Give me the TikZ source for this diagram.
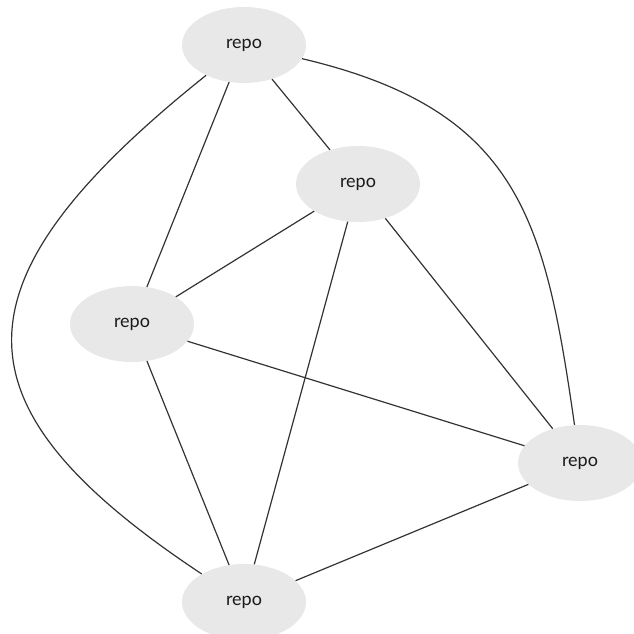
\documentclass[tikz,border=0pt]{standalone}
\usepackage{fontspec}
\setmainfont{Lato}
\usetikzlibrary{shapes.geometric}
\definecolor{nodefill}{HTML}{E8E8E8}
\definecolor{edgecol}{HTML}{333333}
\definecolor{textcol}{HTML}{1A1A1A}
\tikzset{
  repobox/.style={ellipse, fill=nodefill, draw=none, inner sep=0pt,
    minimum width=124pt, minimum height=76pt,
    font=\fontsize{18}{21}\selectfont, text=textcol},
  edge/.style={draw=edgecol, line width=1.2pt}
}
\begin{document}
\begin{tikzpicture}[x=1pt,y=-1pt]
\useasboundingbox (0,0) rectangle (634,634);
\node[repobox] (A) at (244,45) {repo};
\node[repobox] (B) at (358,184) {repo};
\node[repobox] (C) at (132,324) {repo};
\node[repobox] (D) at (580,463) {repo};
\node[repobox] (E) at (244,602) {repo};
\draw[edge] (A) -- (B);
\draw[edge] (A) -- (C);
\draw[edge] (B) -- (C);
\draw[edge] (B) -- (D);
\draw[edge] (B) -- (E);
\draw[edge] (C) -- (D);
\draw[edge] (C) -- (E);
\draw[edge] (D) -- (E);
\draw[edge] (A) .. controls (520,110) and (545,220) .. (D);
\draw[edge] (A) .. controls (-55,284) and (-50,407) .. (E);
\end{tikzpicture}
\end{document}
